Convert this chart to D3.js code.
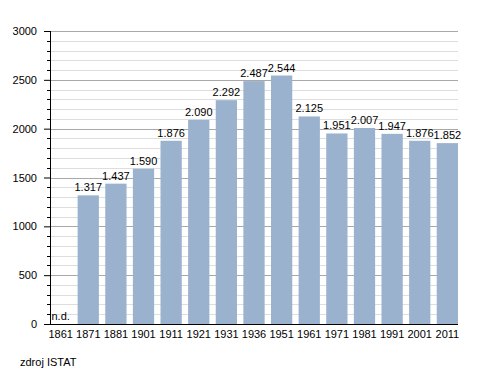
<!DOCTYPE html>
<html>
<head>
<meta charset="utf-8">
<script src="https://cdn.jsdelivr.net/npm/d3@7"></script>
<style>
	body { margin: 0; background: #fff; }
	svg { display: block; font-family: "Liberation Sans", Arial, sans-serif; }
</style>
</head>
<body>
<div id="chart"></div>
<script>
// Data
const years = ["1861", "1871", "1881", "1901", "1911", "1921", "1931", "1936", "1951", "1961", "1971", "1981", "1991", "2001", "2011"];
const population = [null, 1317, 1437, 1590, 1876, 2090, 2292, 2487, 2544, 2125, 1951, 2007, 1947, 1876, 1852];
const yMajorTicks = [0, 500, 1000, 1500, 2000, 2500, 3000];
const sourceNote = "zdroj ISTAT";

const width = 488;
const height = 373;
const margin = { top: 31, right: 30, bottom: 49, left: 50 };
const chartW = width - margin.left - margin.right;
const chartH = height - margin.top - margin.bottom;

const fmt = d3.format(",d");
const label = function(v) { return fmt(v).replace(/,/g, "."); };

const svg = d3.select("#chart").append("svg")
	.attr("width", width)
	.attr("height", height);

const chart = svg.append("g")
	.attr("transform", "translate(" + margin.left + "," + margin.top + ")");

// Scales
const xScale = d3.scaleBand()
	.domain(years)
	.range([0, chartW])
	.paddingInner(0.23)
	.paddingOuter(0);

const yScale = d3.scaleLinear()
	.domain([0, 3000])
	.range([chartH, 0]);

// Minor grid (every 100)
const minorTicks = d3.range(0, 3001, 100).filter(function(d) { return d % 500 !== 0; });
chart.append("g")
	.selectAll("line")
	.data(minorTicks)
	.enter().append("line")
	.attr("x1", -3)
	.attr("x2", chartW)
	.attr("y1", function(d) { return Math.round(yScale(d)) + 0.5; })
	.attr("y2", function(d) { return Math.round(yScale(d)) + 0.5; })
	.attr("stroke", "#dedede");

chart.append("g")
	.selectAll("line")
	.data(minorTicks)
	.enter().append("line")
	.attr("x1", -3)
	.attr("x2", 0)
	.attr("y1", function(d) { return Math.round(yScale(d)) + 0.5; })
	.attr("y2", function(d) { return Math.round(yScale(d)) + 0.5; })
	.attr("stroke", "#000");

// Major grid
chart.append("g")
	.selectAll("line")
	.data(yMajorTicks.filter(function(d) { return d > 0; }))
	.enter().append("line")
	.attr("x1", 0)
	.attr("x2", chartW)
	.attr("y1", function(d) { return Math.round(yScale(d)) + 0.5; })
	.attr("y2", function(d) { return Math.round(yScale(d)) + 0.5; })
	.attr("stroke", "#a8a8a8");

// Bars
const bars = years.map(function(y, i) { return { year: y, value: population[i] }; });

chart.selectAll(".bar")
	.data(bars.filter(function(d) { return d.value !== null; }))
	.enter().append("rect")
	.attr("class", "bar")
	.attr("x", function(d) { return xScale(d.year); })
	.attr("y", function(d) { return yScale(d.value); })
	.attr("width", xScale.bandwidth())
	.attr("height", function(d) { return chartH - yScale(d.value); })
	.attr("fill", "#9bb2ce");

// Value labels
chart.selectAll(".valueLabel")
	.data(bars)
	.enter().append("text")
	.attr("class", "valueLabel")
	.attr("x", function(d) { return xScale(d.year) + xScale.bandwidth() / 2; })
	.attr("y", function(d) { return yScale(d.value === null ? 0 : d.value) - 4; })
	.attr("text-anchor", "middle")
	.attr("font-size", 11)
	.attr("fill", "#000")
	.text(function(d) { return d.value === null ? "n.d." : label(d.value); });

// Y Axis
const yAxis = d3.axisLeft(yScale)
	.tickValues(yMajorTicks)
	.tickSize(6)
	.tickPadding(7)
	.tickFormat(d3.format("d"));

chart.append("g")
	.call(yAxis)
	.attr("font-family", null)
	.attr("font-size", 11)
	.call(function(g) {
		g.select(".domain").remove();
		g.selectAll("text").attr("fill", "#000");
	});

chart.append("line")
	.attr("x1", 0.5).attr("x2", 0.5)
	.attr("y1", 0).attr("y2", chartH)
	.attr("stroke", "#000");

// X Axis
const xAxis = d3.axisBottom(xScale).tickSize(0).tickPadding(6);
chart.append("g")
	.attr("transform", "translate(0," + chartH + ")")
	.call(xAxis)
	.attr("font-family", null)
	.attr("font-size", 11)
	.call(function(g) {
		g.select(".domain").remove();
		g.selectAll("text").attr("fill", "#000");
	});

chart.append("line")
	.attr("x1", -6).attr("x2", chartW)
	.attr("y1", chartH + 0.5).attr("y2", chartH + 0.5)
	.attr("stroke", "#000");

// Source
svg.append("text")
	.attr("x", 20)
	.attr("y", 366)
	.attr("font-size", 11)
	.attr("fill", "#000")
	.text(sourceNote);
</script>
</body>
</html>
